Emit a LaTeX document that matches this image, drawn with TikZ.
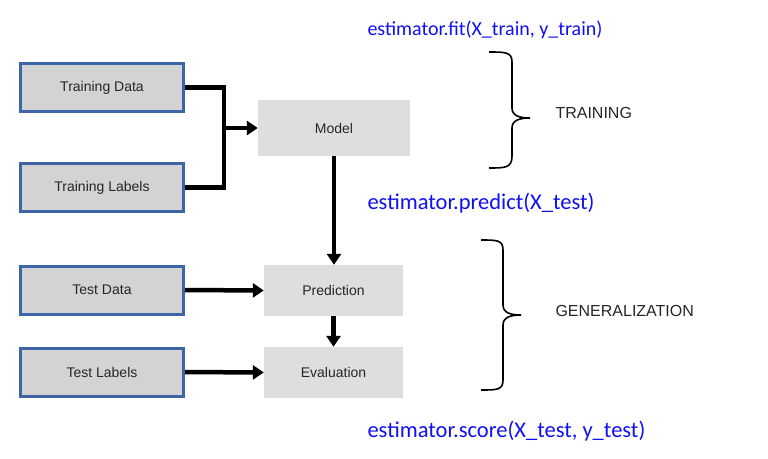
\documentclass[tikz,border=0pt]{standalone}
\usepackage{fontspec}
\setmainfont{Liberation Sans}
\newfontfamily\calfont{Carlito}
\usetikzlibrary{arrows.meta}
\definecolor{boxblue}{HTML}{3D66A8}
\definecolor{boxgray}{HTML}{D3D3D3}
\definecolor{modgray}{HTML}{DEDEDE}
\definecolor{codeblue}{HTML}{1010F0}
\tikzset{
 inbox/.style={draw=boxblue,line width=3pt,fill=boxgray,minimum width=163pt,minimum height=48pt,font=\fontsize{14}{16}\selectfont,text=black!85},
 gbox/.style={fill=modgray,minimum width=139pt,minimum height=51pt,font=\fontsize{14}{16}\selectfont,text=black!85},
 conn/.style={line width=4.5pt},
 arr/.style={conn,-{Triangle[length=11pt,width=14pt]}},
 code/.style={text=codeblue,anchor=west},
 lab/.style={anchor=west,font=\fontsize{16}{18}\selectfont,text=black!85},
 brace/.style={line width=1.6pt}
}
\begin{document}
\begin{tikzpicture}[x=1pt,y=-1pt]
\useasboundingbox (0,0) rectangle (768,458);
\node[inbox] (td) at (102,87.5) {Training Data};
\node[inbox] (tl) at (102,187.5) {Training Labels};
\node[inbox] (sd) at (102,290) {Test Data};
\node[inbox] (sl) at (102,372) {Test Labels};
\node[gbox,minimum width=152pt,minimum height=56pt] (m) at (334,128) {Model};
\node[gbox] (p) at (333.5,290.5) {Prediction};
\node[gbox] (e) at (333.5,372.5) {Evaluation};
\coordinate (j) at (224,128);
\draw[conn] (td.east) -| (224,87.5) |- (tl.east);
\draw[arr] (j) -- (m.west);
\draw[arr] (m.south) -- (m.south |- p.north);
\draw[arr] (sd.east) -- (p.west);
\draw[arr] (sl.east) -- (e.west);
\draw[arr] (p.south) -- (p.south |- e.north);
\node[code,font=\calfont\fontsize{20}{22}\selectfont] (c1) at (364,30) {estimator.fit(X\_train, y\_train)};
\node[code,font=\calfont\fontsize{22.5}{24}\selectfont] (c2) at (364,203) {estimator.predict(X\_test)};
\node[code,font=\calfont\fontsize{22.5}{24}\selectfont] (c3) at (364,431) {estimator.score(X\_test, y\_test)};
\draw[brace] (489,52) .. controls (505,52) and (512,52) .. (512,62) -- (512,108) .. controls (512,116) and (520,118) .. (530,118)
  .. controls (520,118) and (512,120) .. (512,128) -- (512,156) .. controls (512,168) and (505,168) .. (489,168);
\node[lab] (tr) at (552,113) {TRAINING};
\draw[brace] (481,240) .. controls (497,240) and (503,240) .. (503,250) -- (503,305) .. controls (503,313) and (511,315) .. (521,315)
  .. controls (511,315) and (503,317) .. (503,325) -- (503,380) .. controls (503,390) and (497,390) .. (481,390);
\node[lab] (ge) at (552,311) {GENERALIZATION};
\end{tikzpicture}
\end{document}
